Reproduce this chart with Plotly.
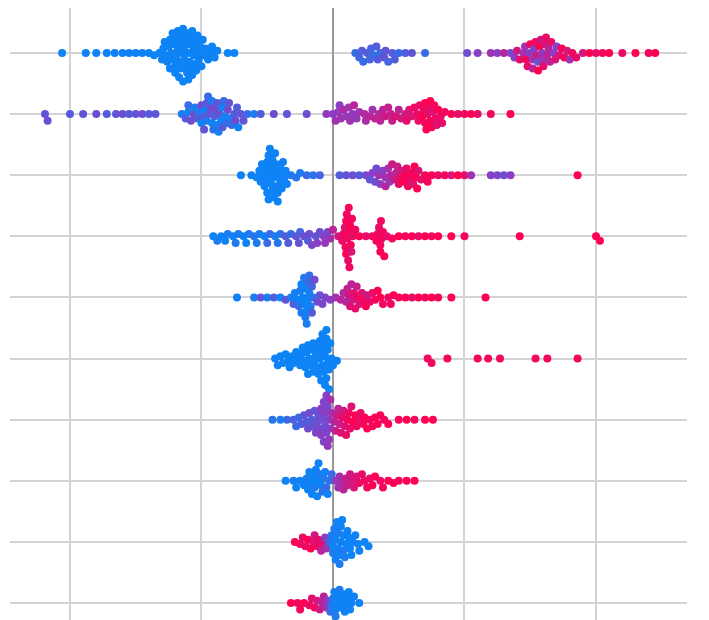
import plotly.graph_objects as go

# SHAP values per feature row (top to bottom) and the normalized feature value (0=low/blue, 1=high/pink)
shap_0 = [-2.06,-1.88,-1.8,-1.72,-1.66,-1.6,-1.55,-1.5,-1.45,-1.4,-1.36,-1.32,-1.29,-1.26,-1.24,-1.22,-1.2,-1.19,-1.18,-1.17,-1.16,-1.15,-1.14,-1.13,-1.12,-1.11,-1.1,-1.09,-1.08,-1.07,-1.06,-1.04,-1.02,-1.0,-0.98,-0.95,-0.92,-0.88,-0.8,-0.75,
          0.17,0.2,0.23,0.26,0.29,0.31,0.33,0.36,0.39,0.42,0.45,0.5,0.55,0.6,0.7,
          1.02,1.1,1.2,1.25,1.3,1.35,1.4,1.45,1.48,1.5,1.52,1.54,1.56,1.58,1.6,1.62,1.65,1.68,1.72,1.76,1.8,1.85,1.9,1.95,2.0,2.05,2.1,2.2,2.3,2.4,2.45]
feat_0 = [0.05]*40 + [0.2,0.25,0.2,0.3,0.25,0.2,0.3,0.2,0.35,0.25,0.3,0.2,0.3,0.35,0.2] + \
         [0.4,0.5,0.6,0.5,0.7,0.45,0.8,0.6,0.9,0.5,0.7,0.95,0.4,0.8,0.6,0.9,0.7,0.5,0.85,0.95,0.6,0.9,0.8,1.0,0.9,0.95,1.0,0.9,1.0,0.95,1.0]
shap_0_more = [-1.3,-1.27,-1.25,-1.23,-1.21,-1.19,-1.17,-1.15,-1.13,-1.11,-1.09,-1.07,-1.05,-1.03,-1.01,-0.99,
               -1.24,-1.2,-1.16,-1.12,-1.08,-1.04,-1.18,-1.14,-1.1,-1.06,-1.28,-0.97,-0.93,-0.9,-1.22,-1.02,
               0.22,0.28,0.34,0.4,0.47,
               1.38,1.42,1.46,1.5,1.53,1.55,1.57,1.59,1.61,1.63,1.66,1.7,1.74,1.78,1.82,1.52,1.56,1.6,1.64,1.47,1.69,1.88]
feat_0_more = [0.05]*32 + [0.3,0.25,0.3,0.35,0.3] + \
              [0.5,0.9,0.6,0.95,0.45,0.8,1.0,0.55,0.85,0.7,0.9,0.5,1.0,0.8,0.95,0.6,1.0,0.9,0.7,0.95,0.85]

shap_1 = [-2.19,-2.17,-2.0,-1.9,-1.8,-1.72,-1.65,-1.6,-1.55,-1.5,-1.45,-1.4,-1.35,
          -1.15,-1.12,-1.1,-1.08,-1.05,-1.03,-1.0,-0.98,-0.96,-0.95,-0.93,-0.92,-0.9,-0.88,-0.86,-0.85,-0.83,-0.8,-0.78,-0.75,-0.72,-0.7,-0.65,-0.6,-0.55,-0.45,-0.35,-0.2,
          -0.05,0.0,0.02,0.04,0.06,0.08,0.1,0.13,0.16,0.2,0.24,0.28,0.32,0.36,0.4,0.44,0.48,0.52,0.56,0.6,0.62,0.65,0.68,0.7,0.72,0.74,0.76,0.78,0.8,0.82,0.85,0.9,0.95,1.0,1.05,1.1,1.2,1.35]
feat_1 = [0.35,0.4,0.3,0.35,0.4,0.3,0.35,0.4,0.3,0.35,0.4,0.3,0.35,
          0.1,0.3,0.05,0.4,0.1,0.3,0.05,0.35,0.1,0.2,0.4,0.05,0.3,0.1,0.35,0.05,0.2,0.4,0.1,0.3,0.05,0.35,0.2,0.1,0.3,0.4,0.35,0.4,
          0.55,0.5,0.6,0.55,0.6,0.65,0.55,0.6,0.7,0.6,0.65,0.7,0.75,0.7,0.8,0.75,0.85,0.8,0.9,0.85,0.95,0.9,1.0,0.95,0.9,1.0,0.85,0.95,1.0,0.9,0.95,1.0,0.9,0.95,1.0,0.9,0.95,1.0]
shap_1_more = [-1.1,-1.06,-1.02,-0.99,-0.97,-0.94,-0.91,-0.89,-0.87,-0.84,-0.82,-0.79,-0.77,-0.74,-0.96,-0.92,-0.88,-0.84,-1.0,-0.81,-0.73,-0.68,
               0.05,0.12,0.18,0.25,0.3,0.35,0.42,0.5,0.58,0.64,0.69,0.71,0.73,0.75,0.77,0.79,0.66,0.7,0.74,0.55,0.45,0.38,0.15,0.83]
feat_1_more = [0.2,0.4,0.1,0.3,0.05,0.35,0.15,0.4,0.1,0.3,0.05,0.35,0.2,0.4,0.3,0.1,0.35,0.05,0.4,0.2,0.3,0.35,
               0.5,0.6,0.55,0.65,0.6,0.7,0.75,0.7,0.85,0.9,0.95,1.0,0.9,1.0,0.95,0.85,0.9,1.0,0.95,0.8,0.75,0.7,0.55,0.9]

shap_2 = [-0.7,-0.62,-0.58,-0.55,-0.53,-0.51,-0.5,-0.49,-0.48,-0.47,-0.46,-0.45,-0.44,-0.43,-0.42,-0.4,-0.38,-0.35,-0.32,-0.28,-0.25,-0.2,-0.15,-0.1,
          0.05,0.1,0.15,0.2,0.25,0.28,0.3,0.32,0.35,0.38,0.4,0.42,0.45,0.48,0.5,0.52,0.55,0.58,0.6,0.62,0.65,0.7,0.75,0.8,0.85,0.9,0.95,1.0,1.05,1.2,1.25,1.3,1.35,1.86]
feat_2 = [0.05]*18 + [0.1,0.15,0.1,0.2,0.15,0.25] + \
         [0.3,0.35,0.4,0.3,0.45,0.35,0.5,0.4,0.6,0.5,0.7,0.6,0.8,0.7,0.9,0.8,1.0,0.9,0.95,1.0,0.85,0.95,1.0,0.9,0.95,0.85,1.0,0.9,0.6,0.5,0.45,0.4,0.5,1.0]
shap_2_more = [-0.56,-0.52,-0.5,-0.48,-0.46,-0.44,-0.42,-0.4,-0.54,-0.5,-0.47,-0.43,-0.39,-0.36,-0.49,-0.45,-0.41,-0.37,
               0.33,0.36,0.4,0.44,0.47,0.51,0.54,0.57,0.61,0.64,0.67,0.72,0.43,0.49,0.56,0.63]
feat_2_more = [0.05]*18 + [0.4,0.5,0.6,0.7,0.8,0.9,1.0,0.95,0.85,1.0,0.9,0.95,0.55,0.75,0.9,1.0]

shap_3 = [-0.91,-0.88,-0.85,-0.8,-0.76,-0.72,-0.68,-0.64,-0.6,-0.56,-0.52,-0.48,-0.44,-0.4,-0.36,-0.32,-0.28,-0.25,-0.22,-0.19,-0.16,-0.13,-0.1,-0.07,-0.04,
          0.0,0.04,0.07,0.09,0.1,0.115,0.12,0.13,0.14,0.15,0.17,0.2,0.25,0.3,0.33,0.35,0.36,0.37,0.39,0.41,0.45,0.5,0.55,0.6,0.65,0.7,0.75,0.8,0.9,1.0,1.42,2.0,2.03]
feat_3 = [0.05,0.1,0.05,0.1,0.05,0.1,0.05,0.1,0.15,0.1,0.05,0.2,0.1,0.15,0.3,0.2,0.35,0.25,0.4,0.3,0.45,0.35,0.4,0.5,0.45,
          0.7,0.8,0.9,0.85,1.0,0.9,0.95,1.0,0.85,0.9,0.95,1.0,0.9,0.95,1.0,0.9,1.0,0.95,1.0,0.9,0.95,1.0,0.95,1.0,0.9,1.0,0.95,1.0,1.0,0.95,1.0,1.0,1.0]
shap_3_more = [-0.82,-0.74,-0.66,-0.58,-0.5,-0.42,-0.34,-0.26,-0.18,-0.12,-0.06,-0.02,
               0.08,0.095,0.105,0.11,0.125,0.135,0.145,0.1,0.12,0.34,0.365,0.38,0.36]
feat_3_more = [0.05,0.1,0.05,0.1,0.2,0.15,0.3,0.35,0.4,0.5,0.55,0.6] + [0.95]*13

shap_4 = [-0.73,-0.6,-0.55,-0.5,-0.45,-0.4,-0.36,-0.32,-0.29,-0.26,-0.24,-0.22,-0.21,-0.2,-0.19,-0.18,-0.16,-0.14,-0.1,-0.06,-0.02,
          0.02,0.06,0.1,0.12,0.14,0.16,0.18,0.2,0.23,0.26,0.3,0.34,0.38,0.42,0.46,0.5,0.55,0.6,0.65,0.7,0.75,0.8,0.9,1.16]
feat_4 = [0.05,0.1,0.35,0.1,0.3,0.05,0.35,0.1,0.05,0.2,0.05,0.1,0.05,0.1,0.05,0.2,0.3,0.4,0.35,0.45,0.5,
          0.6,0.7,0.65,0.8,0.7,0.9,0.75,0.85,0.95,0.8,0.9,1.0,0.95,0.9,1.0,0.95,1.0,0.9,1.0,0.95,1.0,0.95,1.0,1.0]
shap_4_more = [-0.27,-0.25,-0.23,-0.21,-0.2,-0.19,-0.18,-0.17,-0.15,-0.24,-0.22,-0.16,-0.3,-0.12,-0.08,
               0.08,0.11,0.13,0.15,0.17,0.19,0.22,0.25,0.28,0.32,0.36,0.44]
feat_4_more = [0.05,0.1,0.05,0.1,0.05,0.2,0.05,0.1,0.15,0.1,0.05,0.25,0.3,0.4,0.45,
               0.65,0.75,0.85,0.8,0.9,0.95,0.85,1.0,0.9,0.95,1.0,0.95]

shap_5 = [-0.44,-0.4,-0.36,-0.33,-0.3,-0.27,-0.24,-0.22,-0.2,-0.18,-0.16,-0.14,-0.12,-0.1,-0.09,-0.08,-0.07,-0.06,-0.06,-0.05,-0.05,-0.04,-0.04,-0.03,-0.02,0.0,0.03,
          0.72,0.75,0.87,1.1,1.18,1.27,1.54,1.63,1.86]
feat_5 = [0.05]*27 + [0.95]*9
shap_5_more = [-0.42,-0.38,-0.34,-0.31,-0.28,-0.25,-0.21,-0.19,-0.17,-0.15,-0.13,-0.11,-0.09,-0.08,-0.07,-0.05,-0.03,-0.01,-0.23,-0.19,-0.15,-0.12,-0.1]
feat_5_more = [0.05]*23

shap_6 = [-0.46,-0.4,-0.35,-0.3,-0.26,-0.22,-0.19,-0.16,-0.13,-0.11,-0.09,-0.07,-0.06,-0.05,-0.04,-0.03,-0.02,-0.01,
          0.01,0.03,0.05,0.07,0.09,0.11,0.13,0.15,0.18,0.21,0.24,0.28,0.32,0.36,0.42,0.5,0.56,0.62,0.7,0.76]
feat_6 = [0.15,0.1,0.2,0.3,0.2,0.35,0.4,0.3,0.45,0.4,0.5,0.45,0.4,0.5,0.45,0.55,0.5,0.6,
          0.7,0.8,0.75,0.9,0.85,0.95,0.9,1.0,0.95,0.9,1.0,0.95,1.0,0.95,1.0,0.95,1.0,0.95,1.0,1.0]
shap_6_more = [-0.28,-0.2,-0.14,-0.1,-0.08,-0.06,-0.05,-0.04,-0.03,-0.02,-0.12,-0.09,-0.07,-0.15,-0.18,-0.24,
               0.02,0.04,0.06,0.08,0.1,0.12,0.14,0.17,0.2,0.23,0.26,0.3,0.34,0.39]
feat_6_more = [0.2,0.3,0.35,0.45,0.4,0.5,0.45,0.55,0.5,0.6,0.4,0.5,0.45,0.35,0.4,0.3,
               0.75,0.7,0.85,0.8,0.9,0.95,0.85,1.0,0.9,0.95,1.0,0.95,1.0,0.95]

shap_7 = [-0.36,-0.3,-0.25,-0.2,-0.17,-0.14,-0.12,-0.1,-0.09,-0.08,-0.07,-0.05,-0.03,-0.01,
          0.02,0.05,0.08,0.1,0.13,0.16,0.2,0.24,0.28,0.32,0.36,0.42,0.5,0.56,0.62]
feat_7 = [0.05,0.1,0.05,0.1,0.05,0.1,0.05,0.1,0.05,0.15,0.1,0.2,0.15,0.2,
          0.55,0.6,0.7,0.75,0.8,0.85,0.9,0.95,0.9,1.0,0.95,1.0,0.95,1.0,1.0]
shap_7_more = [-0.28,-0.22,-0.18,-0.15,-0.13,-0.11,-0.16,-0.06,-0.04,-0.12,-0.19,
               0.04,0.07,0.11,0.15,0.18,0.22,0.26,0.3,0.38,0.46]
feat_7_more = [0.05]*11 + [0.6,0.65,0.75,0.8,0.85,0.9,0.95,1.0,0.95,1.0]

shap_8 = [-0.29,-0.25,-0.21,-0.17,-0.14,-0.11,-0.08,-0.05,
          -0.03,-0.01,0.0,0.01,0.02,0.03,0.04,0.04,0.05,0.05,0.06,0.07,0.08,0.1,0.12,0.14,0.17,0.2,0.24,0.27]
feat_8 = [1.0,0.95,0.9,1.0,0.8,0.9,0.85,0.6,
          0.2,0.1,0.05,0.1,0.05,0.05,0.1,0.05,0.05,0.1,0.05,0.05,0.1,0.05,0.05,0.05,0.05,0.05,0.05,0.05]
shap_8_more = [-0.23,-0.19,-0.15,-0.12,-0.09,-0.06,0.0,0.02,0.06,0.08,0.09,0.11,0.13,0.15,0.19]
feat_8_more = [0.9,1.0,0.85,0.95,0.7,0.5,0.1,0.05,0.05,0.05,0.1,0.05,0.05,0.05,0.05]

shap_9 = [-0.32,-0.27,-0.22,-0.18,-0.14,-0.1,-0.07,-0.04,
          -0.02,0.0,0.01,0.02,0.02,0.03,0.04,0.05,0.06,0.08,0.1,0.13,0.16,0.2]
feat_9 = [1.0,0.95,1.0,0.9,0.95,0.8,0.7,0.5,
          0.2,0.1,0.05,0.1,0.05,0.05,0.05,0.1,0.05,0.05,0.05,0.05,0.05,0.05]
shap_9_more = [-0.25,-0.16,-0.12,-0.08,-0.05,-0.01,0.07,0.09,0.11,0.12,0.14]
feat_9_more = [0.95,0.9,0.8,0.7,0.55,0.1,0.05,0.05,0.05,0.05,0.05]

rows = [(shap_0 + shap_0_more, feat_0 + feat_0_more), (shap_1 + shap_1_more, feat_1 + feat_1_more),
        (shap_2 + shap_2_more, feat_2 + feat_2_more), (shap_3 + shap_3_more, feat_3 + feat_3_more),
        (shap_4 + shap_4_more, feat_4 + feat_4_more), (shap_5 + shap_5_more, feat_5 + feat_5_more),
        (shap_6 + shap_6_more, feat_6 + feat_6_more), (shap_7 + shap_7_more, feat_7 + feat_7_more),
        (shap_8 + shap_8_more, feat_8 + feat_8_more), (shap_9 + shap_9_more, feat_9 + feat_9_more)]

XPX, YPX = 131.5, 61.1  # px per data unit (layout)
D = 5.5  # min center distance in px

xs, ys, cs = [], [], []
for ri, (sv, fv) in enumerate(rows):
    placed = []
    for x, f in sorted(zip(sv, fv)):
        px = x * XPX
        k = 0
        while True:
            off = ((k + 1) // 2) * 2.2 * (1 if k % 2 else -1)
            if all((px - qx) ** 2 + (off - qy) ** 2 >= D * D for qx, qy in placed):
                break
            k += 1
        placed.append((px, off))
        xs.append(x); ys.append(ri + off / YPX); cs.append(f)

fig = go.Figure(go.Scatter(
    x=xs, y=ys, mode="markers",
    marker=dict(size=8, color=cs, cmin=0, cmax=1,
                colorscale=[[0, "#008bfb"], [0.5, "#8a3ec6"], [1, "#ff0052"]],
                line=dict(width=0)),
    showlegend=False, hoverinfo="skip"))

fig.update_layout(
    width=709, height=620, margin=dict(l=2, r=30, t=0, b=0),
    paper_bgcolor="white", plot_bgcolor="white",
    xaxis=dict(range=[-2.456, 2.692], tickvals=[-2, -1, 1, 2], showticklabels=False,
               showgrid=True, gridcolor="#d3d3d3", gridwidth=1.5,
               zeroline=True, zerolinecolor="#999999", zerolinewidth=1.5, showline=False),
    yaxis=dict(range=[9.409, -0.736], tickvals=list(range(10)), showticklabels=False,
               showgrid=True, gridcolor="#d3d3d3", gridwidth=1.5, zeroline=False, showline=False),
)
fig.write_html("out.html")
